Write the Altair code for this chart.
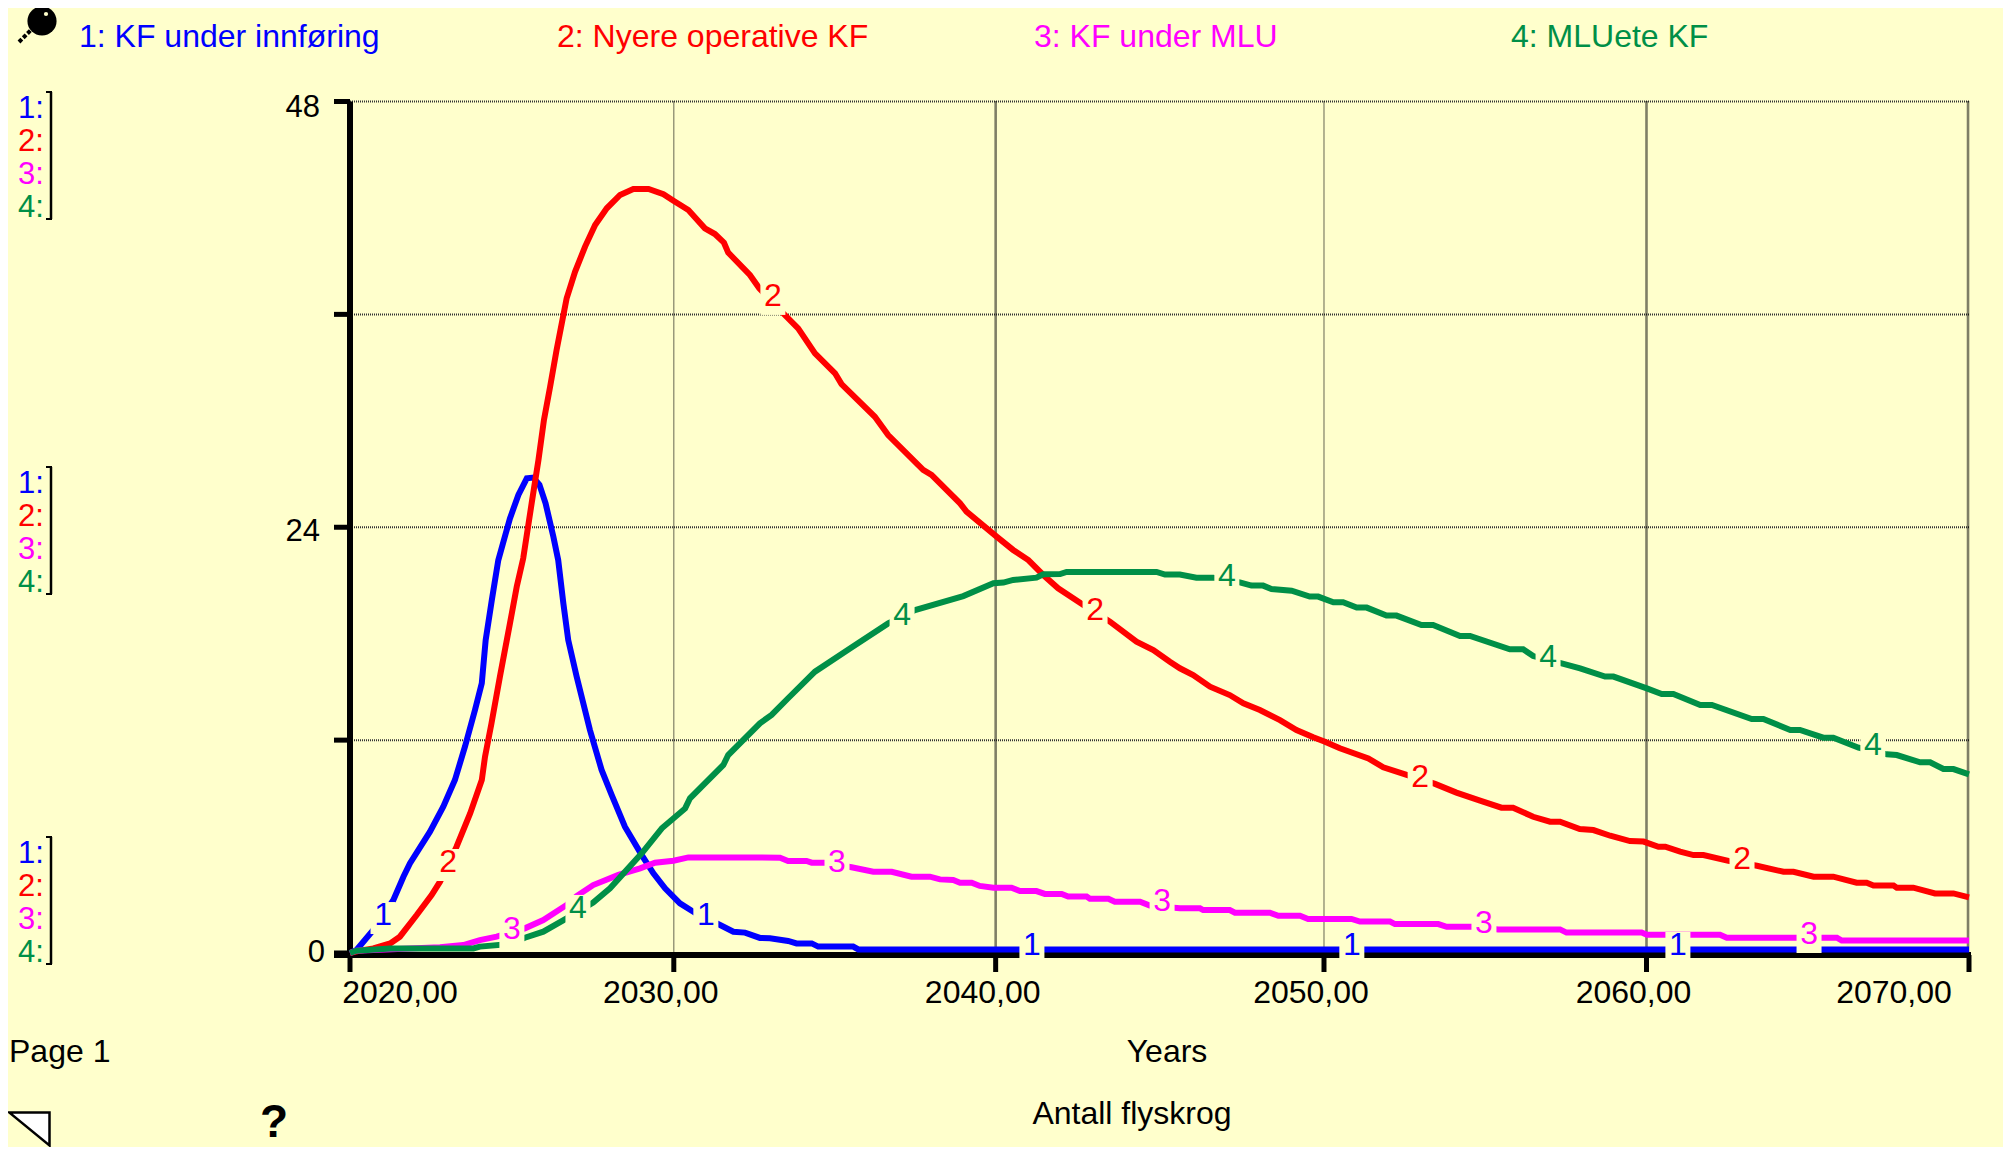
import altair as alt
import pandas as pd

BG = "#FFFFCC"
BLUE, RED, MAGENTA, GREEN = "#0000FF", "#FF0000", "#FF00FF", "#008F47"
FONT = "Liberation Sans"

series_names = ["1: KF under innføring", "2: Nyere operative KF", "3: KF under MLU", "4: MLUete KF"]
series_colors = [BLUE, RED, MAGENTA, GREEN]

blue_x = [2020.0, 2020.2, 2020.72, 2021.34, 2021.65, 2021.85, 2022.47, 2022.88, 2023.24, 2023.55, 2023.86, 2024.07, 2024.19, 2024.38, 2024.58, 2024.94, 2025.2, 2025.46, 2025.66, 2025.85, 2026.04, 2026.28, 2026.43, 2026.59, 2026.74, 2027.0, 2027.41, 2027.77, 2028.08, 2028.49, 2029.01, 2029.37, 2029.73, 2030.19, 2030.65, 2031.43, 2031.84, 2032.2, 2032.66, 2032.97, 2033.53, 2033.79, 2034.26, 2034.46, 2035.54, 2035.7, 2070.0]
blue_y = [0.0, 0.17, 1.3, 2.99, 4.3, 5.05, 6.84, 8.25, 9.75, 11.63, 13.7, 15.2, 17.64, 19.9, 22.15, 24.5, 25.82, 26.76, 26.8, 26.4, 25.35, 23.47, 22.15, 19.7, 17.64, 15.58, 12.57, 10.32, 8.91, 7.12, 5.52, 4.49, 3.65, 2.8, 2.27, 1.58, 1.2, 1.15, 0.85, 0.83, 0.68, 0.54, 0.54, 0.36, 0.36, 0.2, 0.2]

red_x = [2020.0, 2020.31, 2020.72, 2021.24, 2021.54, 2022.06, 2022.52, 2022.78, 2023.29, 2023.71, 2024.07, 2024.17, 2024.37, 2024.63, 2024.94, 2025.15, 2025.35, 2025.61, 2025.82, 2025.99, 2026.18, 2026.38, 2026.54, 2026.69, 2026.95, 2027.26, 2027.57, 2027.93, 2028.34, 2028.75, 2029.22, 2029.68, 2029.99, 2030.45, 2030.96, 2031.27, 2031.55, 2031.68, 2032.35, 2032.64, 2033.33, 2033.84, 2034.36, 2034.98, 2035.18, 2036.21, 2036.62, 2037.7, 2037.96, 2038.84, 2039.04, 2039.97, 2040.48, 2040.95, 2041.41, 2041.87, 2042.65, 2043.47, 2044.29, 2044.81, 2045.32, 2045.63, 2046.04, 2046.56, 2047.17, 2047.59, 2048.1, 2048.72, 2049.23, 2049.75, 2050.11, 2050.57, 2051.45, 2051.91, 2052.73, 2053.51, 2054.17, 2054.9, 2055.56, 2055.92, 2056.54, 2057.06, 2057.37, 2057.98, 2058.4, 2058.92, 2059.53, 2059.95, 2060.41, 2060.62, 2061.08, 2061.49, 2061.8, 2062.57, 2063.45, 2064.27, 2064.58, 2065.2, 2065.81, 2066.53, 2066.84, 2067.05, 2067.67, 2067.77, 2068.28, 2068.95, 2069.52, 2070.0]
red_y = [0.0, 0.13, 0.26, 0.54, 0.92, 2.14, 3.27, 4.02, 5.99, 7.87, 9.75, 11.07, 12.95, 15.58, 18.58, 20.65, 22.25, 25.35, 27.79, 30.05, 31.92, 33.99, 35.49, 36.9, 38.4, 39.82, 41.04, 41.98, 42.73, 43.07, 43.07, 42.77, 42.41, 41.88, 40.85, 40.53, 40.04, 39.48, 38.22, 37.47, 36.15, 35.21, 33.8, 32.68, 32.07, 30.23, 29.2, 27.23, 26.95, 25.35, 24.88, 23.47, 22.72, 22.15, 21.31, 20.56, 19.62, 18.68, 17.55, 17.08, 16.42, 16.05, 15.67, 15.01, 14.54, 14.07, 13.7, 13.13, 12.57, 12.16, 11.91, 11.54, 10.97, 10.47, 9.98, 9.53, 9.04, 8.59, 8.19, 8.19, 7.68, 7.4, 7.4, 6.99, 6.93, 6.61, 6.31, 6.28, 5.99, 5.99, 5.71, 5.52, 5.52, 5.19, 4.92, 4.58, 4.58, 4.3, 4.3, 3.96, 3.96, 3.8, 3.8, 3.68, 3.68, 3.36, 3.36, 3.14]

magenta_x = [2020.0, 2020.2, 2020.72, 2022.78, 2023.5, 2024.01, 2024.53, 2025.4, 2025.97, 2026.69, 2027.0, 2027.51, 2028.29, 2028.96, 2029.42, 2029.99, 2030.45, 2032.66, 2033.28, 2033.53, 2034.1, 2034.26, 2034.67, 2035.49, 2036.16, 2036.73, 2037.34, 2037.91, 2038.22, 2038.63, 2038.84, 2039.2, 2039.45, 2039.87, 2040.43, 2040.69, 2041.2, 2041.46, 2041.98, 2042.18, 2042.75, 2042.85, 2043.42, 2043.62, 2044.4, 2044.7, 2045.63, 2046.25, 2046.35, 2047.17, 2047.33, 2048.41, 2048.67, 2049.34, 2049.59, 2050.93, 2051.19, 2052.12, 2052.27, 2053.61, 2053.87, 2054.69, 2055.46, 2057.37, 2057.57, 2059.89, 2060.05, 2062.31, 2062.52, 2065.92, 2066.07, 2070.0]
magenta_y = [0.0, 0.13, 0.17, 0.32, 0.45, 0.73, 0.92, 1.39, 1.86, 2.71, 3.21, 3.83, 4.4, 4.77, 5.09, 5.2, 5.39, 5.39, 5.37, 5.19, 5.19, 5.09, 5.09, 4.83, 4.58, 4.58, 4.3, 4.3, 4.15, 4.12, 3.96, 3.96, 3.78, 3.68, 3.68, 3.49, 3.49, 3.33, 3.33, 3.18, 3.18, 3.06, 3.06, 2.89, 2.89, 2.67, 2.52, 2.52, 2.42, 2.42, 2.27, 2.27, 2.1, 2.1, 1.92, 1.92, 1.77, 1.77, 1.63, 1.63, 1.48, 1.48, 1.33, 1.33, 1.15, 1.15, 1.03, 1.03, 0.86, 0.86, 0.7, 0.7]

green_x = [2020.0, 2020.2, 2021.24, 2023.81, 2024.01, 2024.94, 2025.4, 2025.97, 2026.69, 2027.51, 2028.03, 2029.01, 2029.63, 2030.35, 2030.5, 2031.53, 2031.68, 2032.66, 2033.02, 2033.53, 2034.36, 2035.44, 2036.62, 2037.45, 2038.94, 2039.87, 2040.18, 2040.48, 2041.2, 2041.41, 2041.93, 2042.13, 2044.91, 2045.17, 2045.63, 2046.14, 2046.66, 2047.48, 2047.84, 2048.2, 2048.46, 2049.08, 2049.64, 2049.9, 2050.37, 2050.67, 2051.09, 2051.4, 2052.01, 2052.32, 2053.09, 2053.45, 2054.28, 2054.59, 2055.82, 2056.23, 2056.54, 2057.42, 2057.99, 2058.76, 2059.02, 2060.05, 2060.51, 2060.87, 2061.7, 2062.06, 2063.29, 2063.65, 2064.48, 2064.78, 2065.5, 2065.81, 2066.59, 2067.46, 2067.77, 2068.49, 2068.8, 2069.21, 2069.52, 2070.0]
green_y = [0.0, 0.13, 0.26, 0.26, 0.36, 0.51, 0.86, 1.2, 1.95, 2.84, 3.65, 5.62, 7.03, 8.15, 8.72, 10.6, 11.16, 12.95, 13.42, 14.36, 15.86, 17.17, 18.58, 19.33, 20.12, 20.84, 20.88, 21.03, 21.16, 21.35, 21.36, 21.48, 21.48, 21.33, 21.33, 21.16, 21.16, 20.89, 20.71, 20.71, 20.52, 20.42, 20.09, 20.09, 19.77, 19.77, 19.47, 19.47, 19.02, 19.02, 18.49, 18.49, 17.87, 17.87, 17.12, 17.12, 16.74, 16.33, 16.05, 15.58, 15.58, 14.92, 14.6, 14.6, 13.98, 13.98, 13.19, 13.19, 12.57, 12.57, 12.14, 12.14, 11.57, 11.2, 11.16, 10.75, 10.75, 10.37, 10.37, 10.07]

line_xs = [blue_x, red_x, magenta_x, green_x]
line_ys = [blue_y, red_y, magenta_y, green_y]

# in-plot series number labels
label_x = [
    [2021.02, 2030.99, 2041.06, 2050.94, 2061.01],
    [2023.03, 2033.06, 2043.01, 2053.05, 2062.99],
    [2025.0, 2035.04, 2045.08, 2055.02, 2065.06],
    [2027.04, 2037.05, 2047.08, 2057.0, 2067.03],
]
label_y = [
    [2.14, 2.14, 0.45, 0.45, 0.45],
    [5.13, 37.04, 19.33, 9.92, 5.3],
    [1.35, 5.13, 2.93, 1.69, 1.07],
    [2.54, 19.05, 21.25, 16.69, 11.72],
]

x_ticks = [2020, 2030, 2039.94, 2050.08, 2060.04, 2070]
x_tick_text = ["2020,00", "2030,00", "2040,00", "2050,00", "2060,00", "2070,00"]
y_ticks = [0, 12, 24, 36, 48]
h_grid = [12, 24, 36, 48]
v_grid = [2030, 2039.94, 2050.08, 2060.04, 2069.97]
v_grid_width = [1.2, 2.6, 1.2, 2.6, 2.6]

# layout of the reference, page pixels
LEFT, TOP = 350, 101.5
W, H = 1619, 851.5
def px(v): return v - LEFT
def py(v): return v - TOP

xs = alt.Scale(domain=[2020, 2070], nice=False, zero=False)
ys = alt.Scale(domain=[0, 48], nice=False, zero=False)
X = lambda f: alt.X(f, type="quantitative", scale=xs, title=None, axis=None)
Y = lambda f: alt.Y(f, type="quantitative", scale=ys, title=None, axis=None)


def free_text(txt, x, y, color="black", size=32, align="left", weight="normal"):
    return alt.Chart(pd.DataFrame({"t": [txt]})).mark_text(
        font=FONT, fontSize=size, align=align, baseline="alphabetic", color=color,
        fontWeight=weight, clip=False,
    ).encode(text="t:N", x=alt.value(px(x)), y=alt.value(py(y)))


layers = []

# gridlines
layers.append(
    alt.Chart(pd.DataFrame({"v": h_grid})).mark_rule(color="#333333", strokeWidth=2, strokeDash=[1, 1])
    .encode(y=Y("v"))
)
layers.append(
    alt.Chart(pd.DataFrame({"v": v_grid, "w": v_grid_width})).mark_rule(color="#000000", strokeDash=[1, 1])
    .encode(x=X("v"), strokeWidth=alt.StrokeWidth("w:Q", scale=None, legend=None))
)

# axes (ticks and domain)
layers.append(
    alt.Chart(pd.DataFrame({"x": x_ticks})).mark_rule(color="black", strokeWidth=5, clip=False)
    .encode(x=X("x"), y=alt.value(H + 2), y2=alt.value(H + 19))
)
layers.append(
    alt.Chart(pd.DataFrame({"y": y_ticks})).mark_rule(color="black", strokeWidth=5, clip=False)
    .encode(y=alt.Y("y:Q", scale=ys, title=None, axis=None), x=alt.value(-16), x2=alt.value(0))
)
layers.append(
    alt.Chart(pd.DataFrame({"y": [0]})).mark_rule(color="black", strokeWidth=6, clip=False)
    .encode(x=alt.value(-16), x2=alt.value(W + 2), y=alt.value(H + 2))
)
layers.append(
    alt.Chart(pd.DataFrame({"y": [0]})).mark_rule(color="black", strokeWidth=6, clip=False)
    .encode(x=alt.value(0), y=alt.value(0), y2=alt.value(H + 2))
)

# series
for xv, yv, c in zip(line_xs, line_ys, series_colors):
    layers.append(
        alt.Chart(pd.DataFrame({"x": xv, "y": yv})).mark_line(color=c, strokeWidth=6, interpolate="linear", clip=False)
        .encode(x=X("x"), y=Y("y"), order="x:Q")
    )

# knock-out boxes and numbers
for i, c in enumerate(series_colors):
    df = pd.DataFrame({"x": label_x[i], "y": label_y[i], "t": str(i + 1)})
    layers.append(alt.Chart(df).mark_rect(width=25, height=32, yOffset=3, color=BG).encode(x=X("x"), y=Y("y")))
for i, c in enumerate(series_colors):
    df = pd.DataFrame({"x": label_x[i], "y": label_y[i], "t": str(i + 1)})
    layers.append(
        alt.Chart(df).mark_text(font=FONT, fontSize=32, color=c, align="center", baseline="middle")
        .encode(x=X("x"), y=Y("y"), text="t:N")
    )

# x tick labels
for idx, dx, in [((0,), 50), ((1, 2, 3, 4), -13), ((5,), -75)]:
    df = pd.DataFrame({"x": [x_ticks[i] for i in idx], "t": [x_tick_text[i] for i in idx]})
    layers.append(
        alt.Chart(df).mark_text(font=FONT, fontSize=32, color="black", align="center", baseline="alphabetic", dx=dx, clip=False)
        .encode(x=X("x"), y=alt.value(py(1003)), text="t:N")
    )

# y tick labels
layers.append(free_text("48", 320, 117, size=31, align="right"))
layers.append(free_text("24", 320, 541, size=31, align="right"))
layers.append(free_text("0", 325, 962, size=31, align="right"))

# top legend
for name, c, xpos in zip(series_names, series_colors, [79, 557, 1034, 1511]):
    layers.append(free_text(name, xpos, 47, color=c))

# left numerals and brackets
for base in [[118, 151, 184, 217], [493, 526, 559, 592], [863, 896, 929, 962]]:
    for i, (b, c) in enumerate(zip(base, series_colors)):
        layers.append(free_text(f"{i + 1}:", 18, b, color=c, size=31))
    top, bot = base[0] - 26, base[3] + 2
    layers.append(alt.Chart(pd.DataFrame({"y": [0]})).mark_rule(color="black", strokeWidth=2.5, clip=False)
                  .encode(x=alt.value(px(51)), y=alt.value(py(top)), y2=alt.value(py(bot))))
    for v in (top, bot):
        layers.append(alt.Chart(pd.DataFrame({"y": [0]})).mark_rule(color="black", strokeWidth=2, clip=False)
                      .encode(x=alt.value(px(46)), x2=alt.value(px(52)), y=alt.value(py(v))))

# bottom text
layers.append(free_text("Page 1", 9, 1062))
layers.append(free_text("Years", 1167, 1062, align="center"))
layers.append(free_text("Antall flyskrog", 1132, 1124, align="center"))
layers.append(free_text("?", 274, 1137, size=46, align="center", weight="bold"))

# decorative glyphs: pin, triangle
one = pd.DataFrame({"y": [0]})
layers.append(alt.Chart(one).mark_rule(color="black", strokeWidth=4, strokeDash=[4, 2], clip=False)
              .encode(x=alt.value(px(19)), x2=alt.value(px(31)), y=alt.value(py(42)), y2=alt.value(py(30))))
layers.append(alt.Chart(one).mark_point(shape="circle", filled=True, color="black", size=850, opacity=1, clip=False)
              .encode(x=alt.value(px(42)), y=alt.value(py(21))))
layers.append(alt.Chart(one).mark_point(shape="circle", filled=True, color=BG, size=18, opacity=1, clip=False)
              .encode(x=alt.value(px(46)), y=alt.value(py(14))))
layers.append(alt.Chart(one).mark_point(shape="M-1,-0.82L1,-0.82L1,0.82Z", filled=True, fill="white", stroke="black",
                                         strokeWidth=2.5, size=1600, opacity=1, clip=False)
              .encode(x=alt.value(px(29.5)), y=alt.value(py(1129))))

chart = alt.layer(*layers).properties(
    width=W, height=H,
    background=BG,
    padding={"left": LEFT - 8, "top": TOP - 8, "right": 1995 - (LEFT - 8) - W, "bottom": 1139 - (TOP - 8) - H},
    autosize=alt.AutoSizeParams(type="none"),
).configure_view(stroke=None, fill=BG)

chart.save("out.html", embed_options={"renderer": "svg", "actions": False})
